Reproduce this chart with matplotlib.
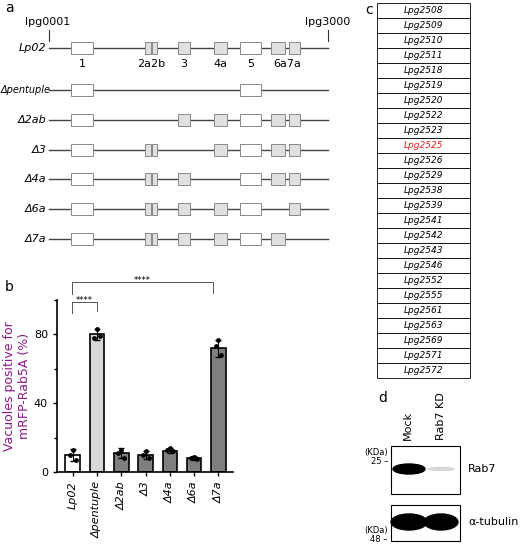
import numpy as np
import matplotlib.pyplot as plt
from matplotlib.patches import Rectangle, Ellipse

W, H = 520, 549

# panel a: gene cluster
rows = ["Lp02", "Δpentuple", "Δ2ab", "Δ3", "Δ4a", "Δ6a", "Δ7a"]
genes = ["1", "2a", "2b", "3", "4a", "5", "6a", "7a"]
gene_x = [71, 145, 152, 178, 214, 240, 271, 289]
gene_w = [22, 6, 5, 12, 13, 21, 14, 11]
gene_white = [True, False, False, False, False, True, False, False]
present = {
    "Lp02": genes,
    "Δpentuple": ["1", "5"],
    "Δ2ab": ["1", "3", "4a", "5", "6a", "7a"],
    "Δ3": ["1", "2a", "2b", "4a", "5", "6a", "7a"],
    "Δ4a": ["1", "2a", "2b", "3", "5", "6a", "7a"],
    "Δ6a": ["1", "2a", "2b", "3", "4a", "5", "7a"],
    "Δ7a": ["1", "2a", "2b", "3", "4a", "5", "6a"],
}
row_y = [48, 90, 120, 150, 179, 209, 239]

# panel b: bar chart
strains = ["Lp02", "Δpentuple", "Δ2ab", "Δ3", "Δ4a", "Δ6a", "Δ7a"]
means = [10, 80, 11, 10, 12.5, 8, 72]
sds = [3.5, 3, 3, 2.5, 1.5, 1.2, 5]
points = [[13, 10, 7], [83, 78, 79], [13, 11, 8], [12, 10, 8], [14, 13, 12], [8.5, 8, 7.5], [77, 73, 68]]
bar_colors = ["white", "#d9d9d9", "#7f7f7f", "#7f7f7f", "#7f7f7f", "#7f7f7f", "#7f7f7f"]

# panel c: gene list
lpg = ["Lpg2508", "Lpg2509", "Lpg2510", "Lpg2511", "Lpg2518", "Lpg2519", "Lpg2520",
       "Lpg2522", "Lpg2523", "Lpg2525", "Lpg2526", "Lpg2529", "Lpg2538", "Lpg2539",
       "Lpg2541", "Lpg2542", "Lpg2543", "Lpg2546", "Lpg2552", "Lpg2555", "Lpg2561",
       "Lpg2563", "Lpg2569", "Lpg2571", "Lpg2572"]
highlight = "Lpg2525"

fig = plt.figure(figsize=(W / 100, H / 100), dpi=100)

fs = 8
# --- b (real axes) ---
ax = fig.add_axes([57 / W, 1 - 472 / H, (233 - 57) / W, (472 - 300) / H])
xs = np.arange(len(strains))
ax.bar(xs, means, width=0.6, color=bar_colors, edgecolor="black", lw=1.2)
ax.errorbar(xs, means, yerr=sds, fmt="none", ecolor="black", capsize=2.5, lw=0.8)
for i, p in enumerate(points):
    ax.scatter(i + np.array([0.0, -0.12, 0.12]), p, s=6, color="black", zorder=3)
ax.set_xlim(-0.65, 6.6)
ax.set_ylim(0, 100)
ax.set_yticks([0, 40, 80])
ax.set_yticks([20, 60, 100], minor=True)
ax.tick_params(which="minor", length=2, width=1)
ax.set_xticks(xs)
ax.set_xticklabels(strains, rotation=90, style="italic", fontsize=fs)
ax.tick_params(labelsize=fs, width=1, length=3)
ax.spines[["top", "right"]].set_visible(False)
ax.spines[["left", "bottom"]].set_linewidth(1.2)
ax.set_ylabel("Vacuoles positive for\nmRFP-Rab5A (%)", color="#8b1a8b", fontsize=9, labelpad=2)
ax.patch.set_alpha(0)

ov = fig.add_axes([0, 0, 1, 1])
ov.set_xlim(0, W)
ov.set_ylim(H, 0)
ov.axis("off")
ov.patch.set_alpha(0)

# --- a ---
ov.text(5, 8, "a", fontsize=10, va="center")
ov.text(48, 22, "lpg0001", fontsize=fs, ha="center", va="center")
ov.text(328, 22, "lpg3000", fontsize=fs, ha="center", va="center")
ov.plot([49, 49], [30, 41], color="#333", lw=0.8)
ov.plot([328, 328], [30, 41], color="#333", lw=0.8)
for name, y in zip(rows, row_y):
    ov.plot([49, 328], [y, y], color="#444", lw=1, zorder=1)
    if name == "Δpentuple":
        ov.text(1, y, name, fontsize=7, style="italic", ha="left", va="center", zorder=3)
    else:
        ov.text(46, y, name, fontsize=fs, style="italic", ha="right", va="center", zorder=3)
    for g, x, w, wh in zip(genes, gene_x, gene_w, gene_white):
        if g in present[name]:
            ov.add_patch(Rectangle((x, y - 6), w, 12, facecolor="white" if wh else "#e0e0e0",
                                   edgecolor="#888", lw=0.7, zorder=2))
lab_x = {"1": 82, "2a2b": 151, "3": 184, "4a": 220, "5": 251, "6a7a": 287}
for t, x in lab_x.items():
    ov.text(x, 64, t, fontsize=fs, ha="center", va="center")

# --- b annotations ---
ov.text(5, 287, "b", fontsize=10, va="center")
ov.plot([72, 72, 213, 213], [294, 282, 282, 293], color="#555", lw=0.7)
ov.plot([72, 72, 97, 97], [313, 302, 302, 311], color="#555", lw=0.7)
ov.text(142, 280, "****", fontsize=6, ha="center", va="center")
ov.text(84, 300, "****", fontsize=6, ha="center", va="center")

# --- c ---
ov.text(365, 10, "c", fontsize=10, va="center")
rh = 15
for i, g in enumerate(lpg):
    y0 = 3 + i * rh
    ov.add_patch(Rectangle((377, y0), 93, rh, facecolor="white", edgecolor="black", lw=0.6))
    ov.text(423, y0 + rh / 2, g, fontsize=6.5, style="italic", ha="center", va="center",
            color="#e0201b" if g == highlight else "black")

# --- d ---
ov.text(378, 398, "d", fontsize=10, va="center")
ov.text(408, 440, "Mock", rotation=90, fontsize=fs, ha="center", va="bottom")
ov.text(441, 440, "Rab7 KD", rotation=90, fontsize=fs, ha="center", va="bottom")
ov.add_patch(Rectangle((391, 446), 69, 48, facecolor="white", edgecolor="black", lw=0.8))
ov.add_patch(Rectangle((391, 505), 69, 36, facecolor="white", edgecolor="black", lw=0.8))
ov.add_patch(Ellipse((409, 469), 32, 10, color="black"))
ov.add_patch(Ellipse((441, 469), 26, 3, color="#d8d8d8"))
ov.add_patch(Ellipse((409, 522), 36, 16, color="black"))
ov.add_patch(Ellipse((441, 522), 34, 16, color="black"))
ov.text(468, 469, "Rab7", fontsize=fs, va="center")
ov.text(468, 522, "α-tubulin", fontsize=fs, va="center")
ov.text(388, 453, "(KDa)", fontsize=6, ha="right", va="center")
ov.text(388, 462, "25 –", fontsize=6, ha="right", va="center")
ov.text(388, 531, "(KDa)", fontsize=6, ha="right", va="center")
ov.text(388, 540, "48 –", fontsize=6, ha="right", va="center")

fig.savefig("out.png", dpi=100)
